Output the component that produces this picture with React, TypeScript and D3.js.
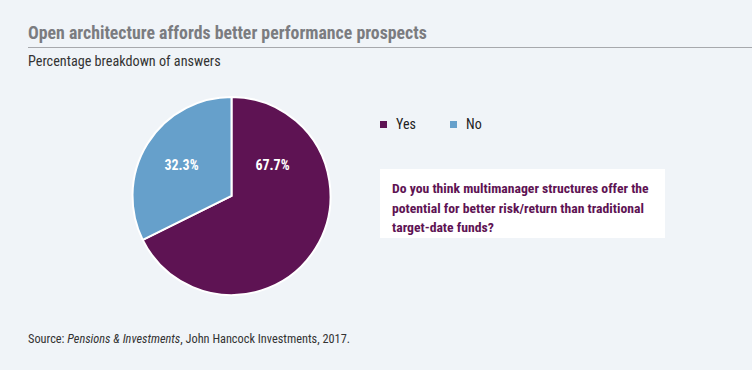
import React, { useEffect, useRef } from 'react';
import * as d3 from 'd3';

const WIDTH = 752;
const HEIGHT = 370;

const categories = ['Yes', 'No'];
const values = [67.7, 32.3];
const colors = ['#5e1353', '#66a0cb'];

const TITLE = 'Open architecture affords better performance prospects';
const SUBTITLE = 'Percentage breakdown of answers';
const QUESTION = [
  'Do you think multimanager structures offer the',
  'potential for better risk/return than traditional',
  'target-date funds?',
];

const FONT = '"Liberation Sans Narrow", "Roboto Condensed", "Open Sans", sans-serif';

export default function App() {
  const ref = useRef<SVGSVGElement>(null);

  useEffect(() => {
    const svg = d3.select(ref.current);
    svg.selectAll('*').remove();

    svg.append('rect').attr('width', WIDTH).attr('height', HEIGHT).attr('fill', '#f0f4f8');

    // title + rule
    svg.append('text')
      .attr('x', 28).attr('y', 39)
      .attr('font-size', 17.8).attr('font-weight', 'bold')
      .attr('fill', '#7b7c80')
      .text(TITLE);
    svg.append('line')
      .attr('x1', 28).attr('x2', WIDTH).attr('y1', 47.5).attr('y2', 47.5)
      .attr('stroke', '#a7a9ad').attr('stroke-width', 1);
    svg.append('text')
      .attr('x', 28).attr('y', 66)
      .attr('font-size', 14.2).attr('fill', '#333')
      .text(SUBTITLE);

    // pie
    const data = categories.map((c, i) => ({ label: c, value: values[i] }));
    const pie = d3.pie<{ label: string; value: number }>().sort(null).value((d) => d.value);
    const radius = 99;
    const arc = d3.arc<d3.PieArcDatum<{ label: string; value: number }>>().innerRadius(0).outerRadius(radius);

    const g = svg.append('g').attr('transform', 'translate(231.5,196)');
    const arcs = pie(data);
    g.selectAll('path')
      .data(arcs)
      .enter()
      .append('path')
      .attr('d', arc)
      .attr('fill', (d, i) => colors[i])
      .attr('stroke', '#fff')
      .attr('stroke-width', 2);

    g.selectAll('text.lbl')
      .data(arcs)
      .enter()
      .append('text')
      .attr('class', 'lbl')
      .attr('x', (d) => (d.index === 0 ? 41 : -50))
      .attr('y', -26)
      .attr('text-anchor', 'middle')
      .attr('font-size', 14).attr('font-weight', 'bold')
      .attr('fill', '#fff')
      .text((d) => d.data.value.toFixed(1) + '%');

    // legend
    const legend = svg.append('g').attr('transform', 'translate(380,120)');
    const items = legend.selectAll('g')
      .data(categories)
      .enter()
      .append('g')
      .attr('transform', (d, i) => `translate(${i * 70},0)`);
    items.append('rect').attr('width', 7).attr('height', 7).attr('y', 1).attr('fill', (d, i) => colors[i]);
    items.append('text').attr('x', 16).attr('y', 9)
      .attr('font-size', 14).attr('fill', '#222').text((d) => d);

    // question box
    svg.append('rect')
      .attr('x', 380).attr('y', 169).attr('width', 285).attr('height', 69)
      .attr('fill', '#fff');
    svg.append('g').selectAll('text')
      .data(QUESTION)
      .enter()
      .append('text')
      .attr('x', 392)
      .attr('y', (d, i) => 193 + i * 19.5)
      .attr('font-size', 13.7).attr('font-weight', 'bold')
      .attr('fill', '#5e1353')
      .text((d) => d);

    // source
    const src = svg.append('text').attr('x', 28).attr('y', 343).attr('font-size', 12.3).attr('fill', '#333');
    src.append('tspan').text('Source: ');
    src.append('tspan').attr('font-style', 'italic').text('Pensions & Investments');
    src.append('tspan').text(', John Hancock Investments, 2017.');
  }, []);

  return (
    <svg
      ref={ref}
      width={WIDTH}
      height={HEIGHT}
      style={{ position: 'absolute', left: 0, top: 0, fontFamily: FONT }}
    />
  );
}
